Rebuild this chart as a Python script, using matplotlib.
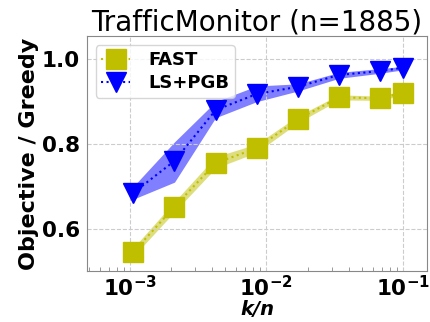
import numpy as np
import matplotlib
matplotlib.use('Agg')
from matplotlib import pyplot as plt

# k / n for n = 1885
n = 1885
k = [2, 4, 8, 16, 32, 64, 128, 188]

fast_mean = [0.545, 0.652, 0.755, 0.790, 0.858, 0.910, 0.908, 0.921]
fast_lo = [0.535, 0.640, 0.743, 0.780, 0.850, 0.904, 0.903, 0.916]
fast_hi = [0.555, 0.664, 0.770, 0.800, 0.866, 0.916, 0.913, 0.926]

pgb_mean = [0.685, 0.760, 0.880, 0.918, 0.935, 0.963, 0.972, 0.980]
pgb_lo = [0.670, 0.710, 0.862, 0.900, 0.925, 0.955, 0.967, 0.975]
pgb_hi = [0.700, 0.805, 0.900, 0.937, 0.942, 0.969, 0.978, 0.983]

x = np.array(k) / n

fig = plt.figure(figsize=(4.3, 3.22), dpi=100)
ax = fig.add_axes([0.202, 0.158, 0.791, 0.729])

ax.fill_between(x, fast_lo, fast_hi, color='y', alpha=0.5, lw=0)
ax.plot(x, fast_mean, ':', color='y', marker='s', markersize=14, label='FAST')
ax.fill_between(x, pgb_lo, pgb_hi, color='b', alpha=0.5, lw=0)
ax.plot(x, pgb_mean, ':', color='b', marker='v', markersize=14, label='LS+PGB')

ax.set_xscale('log')
ax.set_xlim(4.84e-4, 0.15)
ax.set_ylim(0.5, 1.054)
ax.set_yticks([0.6, 0.8, 1.0])
ax.grid(True, linestyle='--', color='#cccccc', lw=0.8)
ax.tick_params(axis='both', which='major', length=0, labelsize=15.5, pad=5)
ax.tick_params(axis='x', which='major', pad=3)
ax.tick_params(axis='x', which='minor', direction='in', length=3, color='#888888')
for lab in ax.get_xticklabels() + ax.get_yticklabels():
    lab.set_fontweight('bold')
for s in ax.spines.values():
    s.set_color('#888888')

ax.set_title('TrafficMonitor (n=1885)', fontsize=20, pad=3)
ax.set_xlabel('k/n', fontsize=14, fontweight='bold', fontstyle='italic', labelpad=0)
ax.set_ylabel('Objective / Greedy', fontsize=16, fontweight='bold', labelpad=2)
ax.legend(loc='upper left', prop={'weight': 'bold', 'size': 13}, markerscale=1.0,
          handlelength=1.6, borderpad=0.3, labelspacing=0.3, handletextpad=1.0)

fig.savefig('out.png', dpi=100)
